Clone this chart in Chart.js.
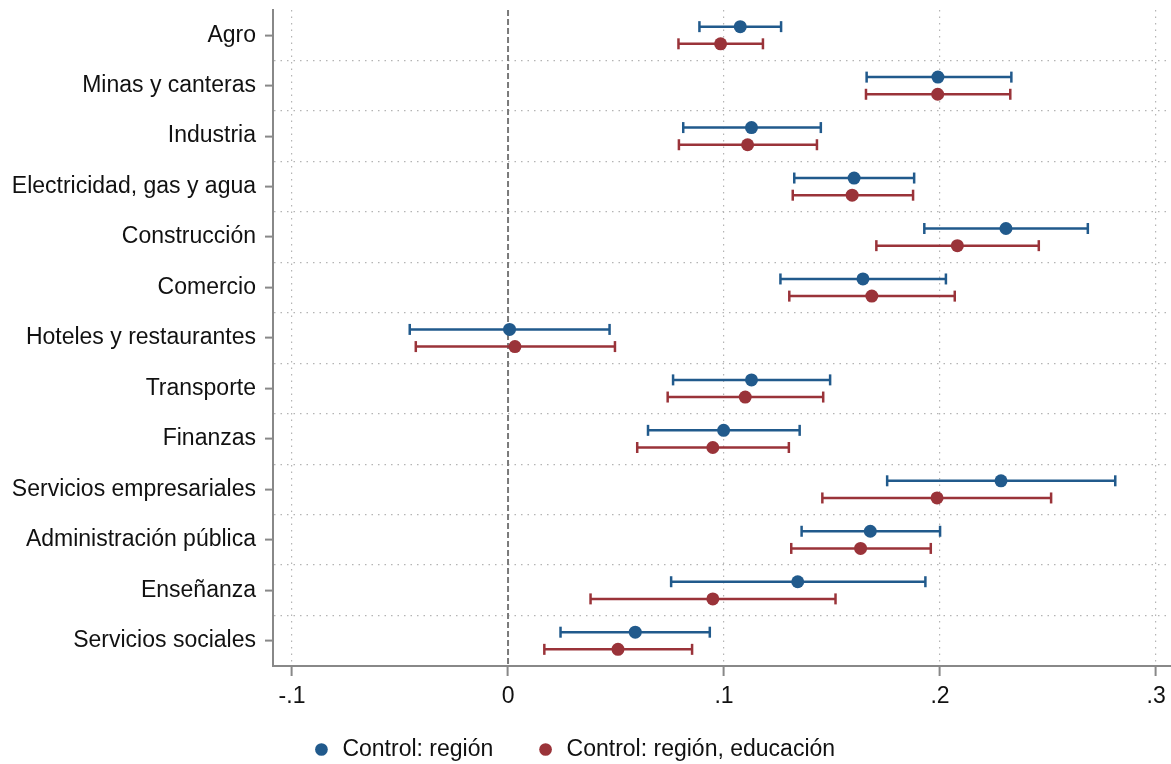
<!DOCTYPE html>
<html>
<head>
<meta charset="utf-8">
<script src="https://cdn.jsdelivr.net/npm/chart.js@4.4.0/dist/chart.umd.min.js"></script>
<style>
  html, body { margin: 0; padding: 0; background: #fff; overflow: hidden; }
  #wrap { width: 1171px; height: 764px; position: relative; }
</style>
</head>
<body>
<div id="wrap"><canvas id="coefChart"></canvas></div>
<script>
// sectors, top to bottom
const sectors = [
  'Agro', 'Minas y canteras', 'Industria', 'Electricidad, gas y agua',
  'Construcción', 'Comercio', 'Hoteles y restaurantes', 'Transporte',
  'Finanzas', 'Servicios empresariales', 'Administración pública',
  'Enseñanza', 'Servicios sociales'
];

// Control: región
const regionCoef = [0.1075, 0.1990, 0.1127, 0.1602, 0.2305, 0.1643, 0.0007, 0.1127, 0.0998, 0.2282, 0.1677, 0.1341, 0.0589];
const regionLow  = [0.0886, 0.1660, 0.0811, 0.1325, 0.1927, 0.1261, -0.0455, 0.0764, 0.0648, 0.1755, 0.1359, 0.0755, 0.0243];
const regionHigh = [0.1264, 0.2330, 0.1448, 0.1880, 0.2684, 0.2027, 0.0470, 0.1491, 0.1350, 0.2811, 0.2000, 0.1932, 0.0934];

// Control: región, educación
const eduCoef = [0.0984, 0.1989, 0.1109, 0.1593, 0.2080, 0.1684, 0.0032, 0.1098, 0.0948, 0.1986, 0.1632, 0.0948, 0.0509];
const eduLow  = [0.0789, 0.1657, 0.0791, 0.1318, 0.1705, 0.1302, -0.0427, 0.0739, 0.0598, 0.1455, 0.1311, 0.0382, 0.0168];
const eduHigh = [0.1180, 0.2325, 0.1430, 0.1875, 0.2457, 0.2068, 0.0495, 0.1459, 0.1300, 0.2514, 0.1957, 0.1516, 0.0852];

const seriesNames = ['Control: región', 'Control: región, educación'];
const xTickValues = [-0.1, 0, 0.1, 0.2, 0.3];
const xTickLabels = ['-.1', '0', '.1', '.2', '.3'];

const BLUE = '#215a8c';
const RED = '#9a3339';
const GRID = '#b4b4b4';
const FONT = 'Liberation Sans, Arial, sans-serif';

const series = [
  { name: seriesNames[0], coef: regionCoef, low: regionLow, high: regionHigh, color: BLUE, shift: -0.17 },
  { name: seriesNames[1], coef: eduCoef, low: eduLow, high: eduHigh, color: RED, shift: 0.17 }
];

const datasets = [];

// dashed reference line at zero
datasets.push({
  data: [{ x: 0, y: -0.5 }, { x: 0, y: sectors.length - 0.5 }],
  showLine: true,
  borderColor: '#7a7a7a',
  borderWidth: 2,
  borderDash: [6, 3],
  pointRadius: 0,
  order: 100
});

// confidence intervals with caps
series.forEach(s => {
  sectors.forEach((name, i) => {
    datasets.push({
      data: [{ x: s.low[i], y: i + s.shift }, { x: s.high[i], y: i + s.shift }],
      showLine: true,
      borderColor: s.color,
      borderWidth: 2.5,
      pointStyle: 'line',
      rotation: 90,
      pointRadius: 5.5,
      pointBorderColor: s.color,
      pointBorderWidth: 2.5,
      order: 10
    });
  });
});

// point estimates
const firstPointSet = datasets.length;
series.forEach(s => {
  datasets.push({
    label: s.name,
    data: s.coef.map((v, i) => ({ x: v, y: i + s.shift })),
    pointStyle: 'circle',
    pointRadius: 6.5,
    backgroundColor: s.color,
    borderColor: s.color,
    borderWidth: 0,
    order: 0
  });
});

const yTicks = [];
for (let k = 0; k <= sectors.length * 2; k++) yTicks.push(-0.5 + k * 0.5);

new Chart(document.getElementById('coefChart').getContext('2d'), {
  type: 'scatter',
  data: { datasets: datasets },
  options: {
    responsive: true,
    maintainAspectRatio: false,
    animation: false,
    events: [],
    layout: { autoPadding: false, padding: { top: 10, left: -24, right: 0, bottom: -7 } },
    scales: {
      x: {
        type: 'linear',
        min: -0.1088,
        max: 0.3069,
        afterBuildTicks: axis => { axis.ticks = xTickValues.map(v => ({ value: v })); },
        afterFit: axis => {
          axis.height = 42;
          axis.paddingLeft = 0;
          axis.paddingRight = 0;
        },
        ticks: {
          autoSkip: false,
          maxRotation: 0,
          padding: 7,
          color: '#111',
          font: { family: FONT, size: 23 },
          callback: v => xTickLabels[xTickValues.indexOf(v)]
        },
        grid: {
          color: c => (c.tick && c.tick.value === 0) ? 'rgba(0,0,0,0)' : GRID,
          lineWidth: 1.2,
          tickLength: 10,
          tickColor: '#888',
          tickWidth: 2
        },
        border: { color: '#888', width: 2, dash: [1.5, 5] }
      },
      y: {
        type: 'linear',
        reverse: true,
        min: -0.5,
        max: sectors.length - 0.5,
        afterBuildTicks: axis => { axis.ticks = yTicks.map(v => ({ value: v })); },
        afterFit: axis => {
          axis.width = 297;
          axis.paddingTop = 0;
          axis.paddingBottom = 0;
        },
        ticks: {
          autoSkip: false,
          padding: 9,
          color: '#111',
          font: { family: FONT, size: 23 },
          callback: v => Number.isInteger(v) ? sectors[v] : ''
        },
        grid: {
          color: c => {
            const v = c.tick ? c.tick.value : 0;
            return (!Number.isInteger(v) && v > -0.5 && v < sectors.length - 0.5) ? GRID : 'rgba(0,0,0,0)';
          },
          lineWidth: 1.2,
          tickLength: 8,
          tickWidth: 2,
          tickColor: c => (c.tick && Number.isInteger(c.tick.value)) ? '#888' : 'rgba(0,0,0,0)'
        },
        border: { color: '#888', width: 2, dash: [1.5, 5] }
      }
    },
    plugins: {
      tooltip: { enabled: false },
      legend: {
        position: 'bottom',
        labels: {
          usePointStyle: true,
          boxWidth: 19,
          boxHeight: 9,
          padding: 30,
          color: '#111',
          font: { family: FONT, size: 23 },
          generateLabels: chart => Chart.defaults.plugins.legend.labels.generateLabels(chart)
            .filter(item => item.datasetIndex >= firstPointSet)
            .map((item, k) => {
              // a little extra room after the first entry
              if (k === 0) item.text = item.text + '  ';
              return item;
            })
        }
      }
    }
  }
});
</script>
</body>
</html>
